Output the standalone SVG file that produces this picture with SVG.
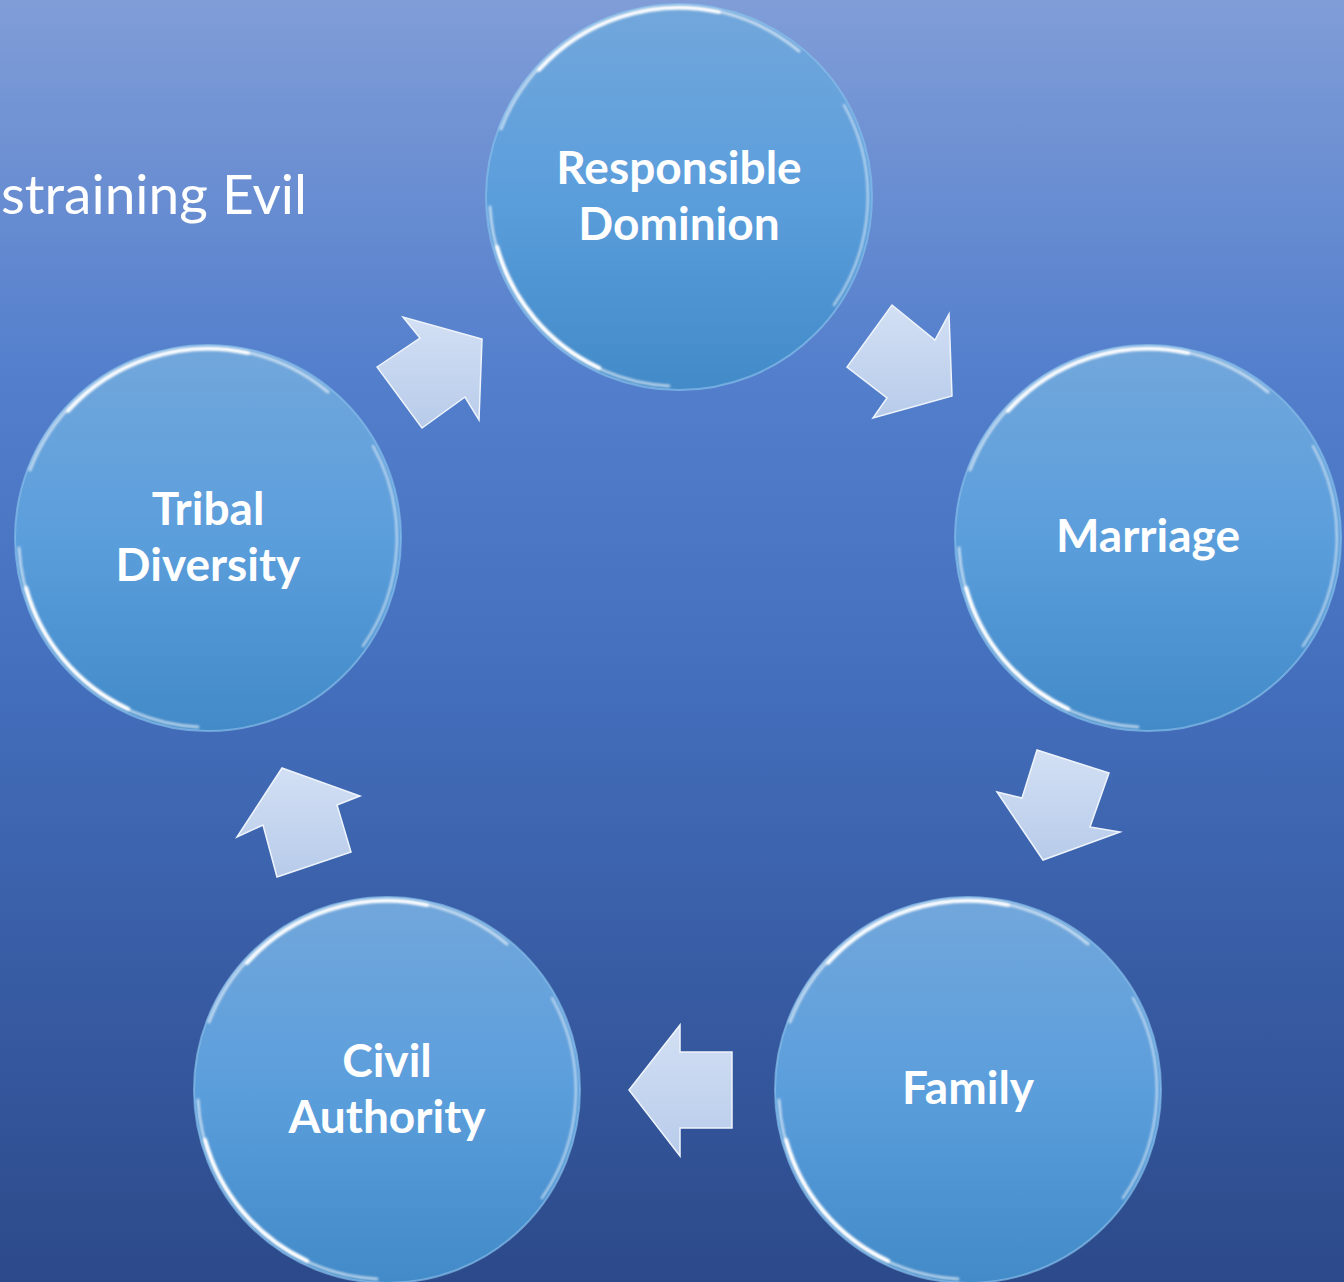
<svg xmlns="http://www.w3.org/2000/svg" xmlns:xlink="http://www.w3.org/1999/xlink" width="1344" height="1282" viewBox="0 0 1344 1282">
<style>
.lbl{font-family:Lato,"Open Sans","Liberation Sans",sans-serif;font-weight:700;font-size:46px;fill:#ffffff;text-anchor:middle}
.title{font-family:Lato,"Open Sans","Liberation Sans",sans-serif;font-weight:400;font-size:55px;fill:#ffffff}
.arrow{fill:url(#arrowFill);stroke:#eef4fc;stroke-width:1.5;stroke-linejoin:miter}
.hl{fill:none;stroke:#ffffff;stroke-linecap:round}
</style>
<defs>
<linearGradient id="bg" x1="0" y1="0" x2="0" y2="1">
<stop offset="0" stop-color="#809dd7"/>
<stop offset="0.3" stop-color="#527ecc"/>
<stop offset="0.5" stop-color="#4571bf"/>
<stop offset="0.8" stop-color="#3659a0"/>
<stop offset="1" stop-color="#2c4a8a"/>
</linearGradient>
<linearGradient id="circFill" x1="0" y1="0" x2="0" y2="1">
<stop offset="0" stop-color="#72a7db"/>
<stop offset="0.5" stop-color="#5b9edc"/>
<stop offset="1" stop-color="#428ac8"/>
</linearGradient>
<linearGradient id="arrowFill" x1="0" y1="0" x2="0" y2="1">
<stop offset="0" stop-color="#d3e0f4"/>
<stop offset="1" stop-color="#b7cbea"/>
</linearGradient>
<filter id="soft" x="-20%" y="-20%" width="140%" height="140%">
<feGaussianBlur stdDeviation="1.2"/>
</filter>
<g id="bubble">
<circle r="193" fill="url(#circFill)" stroke="#86bdea" stroke-width="2" stroke-opacity="0.7"/>
<g filter="url(#soft)">
<path class="hl" d="M -178 -68 A 189 189 0 0 1 120 -146" stroke-width="3" stroke-opacity="0.6"/>
<path class="hl" d="M -140 -127 A 189 189 0 0 1 40 -185" stroke-width="4" stroke-opacity="0.95"/>
<path class="hl" d="M -189 10 A 189 189 0 0 0 -10 189" stroke-width="3" stroke-opacity="0.6"/>
<path class="hl" d="M -182 50 A 189 189 0 0 0 -80 171" stroke-width="4.5" stroke-opacity="1"/>
<path class="hl" d="M 165 -92 A 189 189 0 0 1 155 108" stroke-width="2.5" stroke-opacity="0.55"/>
</g>
</g>
</defs>
<rect width="1344" height="1282" fill="url(#bg)"/>
<text class="title" x="1" y="214">straining Evil</text>
<g id="connectors">
<polygon class="arrow" points="892,305 935,340 949,314 952,396 873,418 887,398 847,367"/>
<polygon class="arrow" points="1037,750 1109,773 1090,827 1120,832 1043,860 997,792 1022,798"/>
<polygon class="arrow" points="629,1090 680,1025 680,1052 732,1052 732,1128 680,1128 680,1156"/>
<polygon class="arrow" points="282,768 360,796 337,805 351,852 277,877 263,825 237,837"/>
<polygon class="arrow" points="377,367 420,338 403,317 482,339 479,420 465,397 422,428"/>
</g>
<g id="node-responsible-dominion">
<use xlink:href="#bubble" href="#bubble" x="679" y="197"/>
<text class="lbl" x="679" y="184">Responsible</text>
<text class="lbl" x="679" y="240">Dominion</text>
</g>
<g id="node-marriage">
<use xlink:href="#bubble" href="#bubble" x="1148" y="538"/>
<text class="lbl" x="1148" y="552">Marriage</text>
</g>
<g id="node-family">
<use xlink:href="#bubble" href="#bubble" x="968" y="1090"/>
<text class="lbl" x="968" y="1104">Family</text>
</g>
<g id="node-civil-authority">
<use xlink:href="#bubble" href="#bubble" x="387" y="1090"/>
<text class="lbl" x="387" y="1077">Civil</text>
<text class="lbl" x="387" y="1133">Authority</text>
</g>
<g id="node-tribal-diversity">
<use xlink:href="#bubble" href="#bubble" x="208" y="538"/>
<text class="lbl" x="208" y="525">Tribal</text>
<text class="lbl" x="208" y="581">Diversity</text>
</g>
</svg>
